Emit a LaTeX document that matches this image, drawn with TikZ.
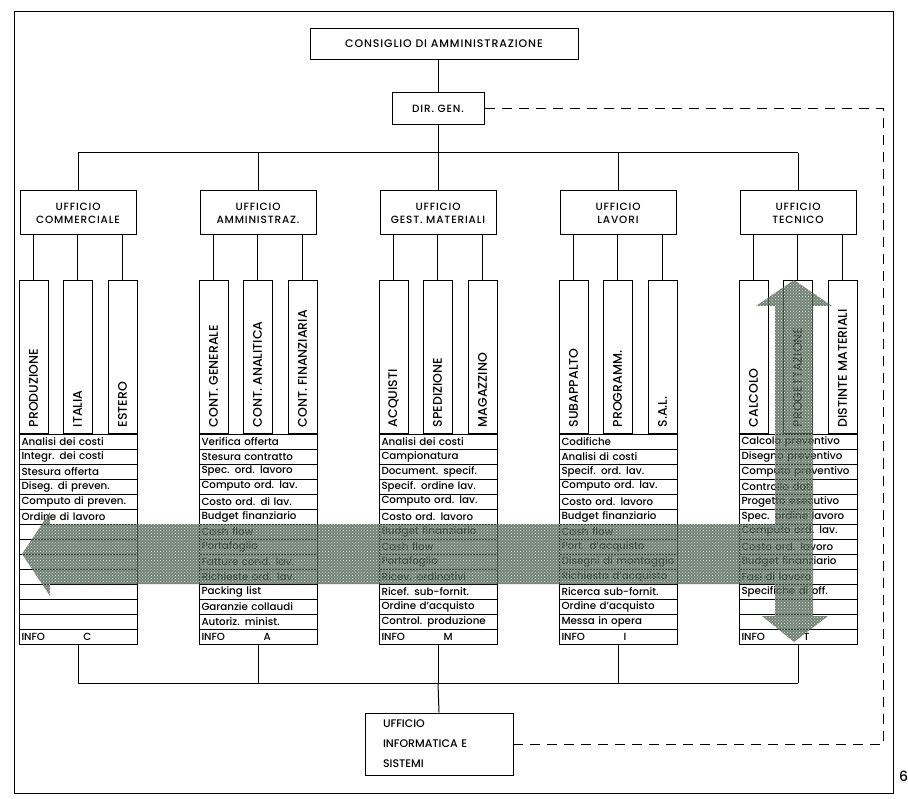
\documentclass[tikz,border=0pt]{standalone}
\usepackage{fontspec}
\setmainfont{Poppins}[UprightFont=* Medium]
\newfontfamily\headfont{Poppins}[UprightFont=* Medium, LetterSpace=8]
\usetikzlibrary{patterns}
\definecolor{bandgreen}{RGB}{66,88,70}
\tikzset{
  frame/.style={line width=1pt},
  box/.style={draw, line width=1pt, inner sep=0pt, align=center, font=\headfont\fontsize{10.5}{13}\selectfont},
  office/.style={box, minimum width=116pt, minimum height=44pt},
  colbox/.style={draw, line width=1pt, minimum width=29pt, minimum height=153pt, inner sep=0pt},
  collabel/.style={rotate=90, anchor=west, inner sep=0pt, font=\fontsize{12.5}{12.5}\selectfont},
  row/.style={draw, line width=0.8pt, minimum height=15pt, text width=113pt, inner xsep=2.5pt, inner ysep=0pt, align=left, font=\fontsize{10.3}{10.5}\selectfont},
  link/.style={line width=1pt},
  infolink/.style={line width=1pt, dash pattern=on 10pt off 7pt},
  band/.style={fill=bandgreen, fill opacity=0.74, postaction={pattern=crosshatch dots, pattern color=white}}
}
\begin{document}
\begin{tikzpicture}[x=1pt, y=-1pt]
\useasboundingbox (0,0) rectangle (908,799);
\draw[frame] (14,12) rectangle (893,793);
\node[anchor=west, inner sep=0pt, font=\fontsize{14}{14}\selectfont] (pag) at (899,776) {6};

% vertice
\node[box, minimum width=268pt, minimum height=31pt, font=\headfont\fontsize{11}{13}\selectfont] (cons) at (444,44) {CONSIGLIO DI AMMINISTRAZIONE};
\node[box, minimum width=92pt, minimum height=32pt] (dir) at (438,109) {DIR. GEN.};
\coordinate (busL) at (78,153);
\coordinate (busR) at (798,153);
\draw[link] (dir.north |- cons.south) -- (dir.north);
\draw[link] (dir.south) -- (dir.south |- busL);
\draw[link] (busL) -- (busR);

% uffici
\node[office] (com) at (78,213) {UFFICIO\\COMMERCIALE};
\node[office] (amm) at (258,213) {UFFICIO\\AMMINISTRAZ.};
\node[office] (mat) at (438,213) {UFFICIO\\GEST. MATERIALI};
\node[office] (lav) at (618,213) {UFFICIO\\LAVORI};
\node[office] (tec) at (798,213) {UFFICIO\\TECNICO};
\foreach \o/\cx in {com/78, amm/258, mat/438, lav/618, tec/798} {
  \draw[link] (\o.north) -- (\o.north |- busL);
  \foreach \k/\dx in {1/-44.5, 2/-0.5, 3/44.5} {
    \node[colbox] (\o\k) at (\cx+\dx,357.5) {};
    \draw[link] (\o.south -| \o\k) -- (\o\k.north);
  }
}

% reparti
\node[collabel] at ([yshift=7pt]com1.south) {PRODUZIONE};
\node[collabel] at ([yshift=7pt]com2.south) {ITALIA};
\node[collabel] at ([yshift=7pt]com3.south) {ESTERO};
\node[collabel] at ([yshift=7pt]amm1.south) {CONT. GENERALE};
\node[collabel] at ([yshift=7pt]amm2.south) {CONT. ANALITICA};
\node[collabel] at ([yshift=7pt]amm3.south) {CONT. FINANZIARIA};
\node[collabel] at ([yshift=7pt]mat1.south) {ACQUISTI};
\node[collabel] at ([yshift=7pt]mat2.south) {SPEDIZIONE};
\node[collabel] at ([yshift=7pt]mat3.south) {MAGAZZINO};
\node[collabel] at ([yshift=7pt]lav1.south) {SUBAPPALTO};
\node[collabel] at ([yshift=7pt]lav2.south) {PROGRAMM.};
\node[collabel] at ([yshift=7pt]lav3.south) {S.A.L.};
\node[collabel] at ([yshift=7pt]tec1.south) {CALCOLO};
\node[collabel] at ([yshift=7pt]tec2.south) {PROGETTAZIONE};
\node[collabel] at ([yshift=7pt]tec3.south) {DISTINTE MATERIALI};

% schede
\foreach \t [count=\i from 0] in {{Analisi dei costi},{Integr. dei costi},{Stesura offerta},{Diseg. di preven.},{Computo di preven.},{Ordine di lavoro},{},{},{},{},{},{},{},{\makebox[62pt][l]{INFO}C}}
  \node[row] (com-r\i) at (78,441.5+15*\i) {\t};
\foreach \t [count=\i from 0] in {{Verifica offerta},{Stesura contratto},{Spec. ord. lavoro},{Computo ord. lav.},{Costo ord. di lav.},{Budget finanziario},{Cash flow},{Portafoglio},{Fatture cond. lav.},{Richieste ord. lav.},{Packing list},{Garanzie collaudi},{Autoriz. minist.},{\makebox[62pt][l]{INFO}A}}
  \node[row] (amm-r\i) at (258,441.5+15*\i) {\t};
\foreach \t [count=\i from 0] in {{Analisi dei costi},{Campionatura},{Document. specif.},{Specif. ordine lav.},{Computo ord. lav.},{Costo ord. lavoro},{Budget finanziario},{Cash flow},{Portafoglio},{Ricev. ordinativi},{Ricef. sub-fornit.},{Ordine d'acquisto},{Control. produzione},{\makebox[62pt][l]{INFO}M}}
  \node[row] (mat-r\i) at (438,441.5+15*\i) {\t};
\foreach \t [count=\i from 0] in {{Codifiche},{Analisi di costi},{Specif. ord. lav.},{Computo ord. lav.},{Costo ord. lavoro},{Budget finanziario},{Cash flow},{Port. d'acquisto},{Disegni di montaggio},{Richiesta d'acquisto},{Ricerca sub-fornit.},{Ordine d'acquisto},{Messa in opera},{\makebox[62pt][l]{INFO}I}}
  \node[row] (lav-r\i) at (618,441.5+15*\i) {\t};
\foreach \t [count=\i from 0] in {{Calcolo preventivo},{Disegno preventivo},{Computo preventivo},{Controllo dati},{Progetto esecutivo},{Spec. ordine lavoro},{Computo ord. lav.},{Costo ord. lavoro},{Budget finanziario},{Fasi di lavoro},{Specifiche di off.},{},{},{\makebox[62pt][l]{INFO}T}}
  \node[row] (tec-r\i) at (798,441.5+15*\i) {\t};

% informatica
\coordinate (botL) at (78,683);
\coordinate (botR) at (798,683);
\foreach \o in {com, amm, mat, lav, tec}
  \draw[link] (\o-r13.south) -- (\o-r13.south |- botL);
\draw[link] (botL) -- (botR);
\node[box, minimum width=148pt, minimum height=62pt, text width=112pt, align=left, font=\fontsize{11}{20}\selectfont] (inf) at (439,744) {UFFICIO\\INFORMATICA E\\SISTEMI};
\draw[link] (mat-r13.south |- botL) -- (inf.north);
\coordinate (dashTR) at (883,107);
\draw[infolink] (dir.east) -- (dir.east -| dashTR) -- (dashTR |- inf.east) -- (inf.east);

% flusso
\fill[band] (22,554) -- (50,512) -- (50,524) -- (775,524) -- (775,306) -- (756,306) -- (794,280) -- (832,306) -- (813,306) -- (813,616) -- (828,616) -- (794,642) -- (762,616) -- (775,616) -- (775,584) -- (50,584) -- (50,596) -- cycle;
\end{tikzpicture}
\end{document}
